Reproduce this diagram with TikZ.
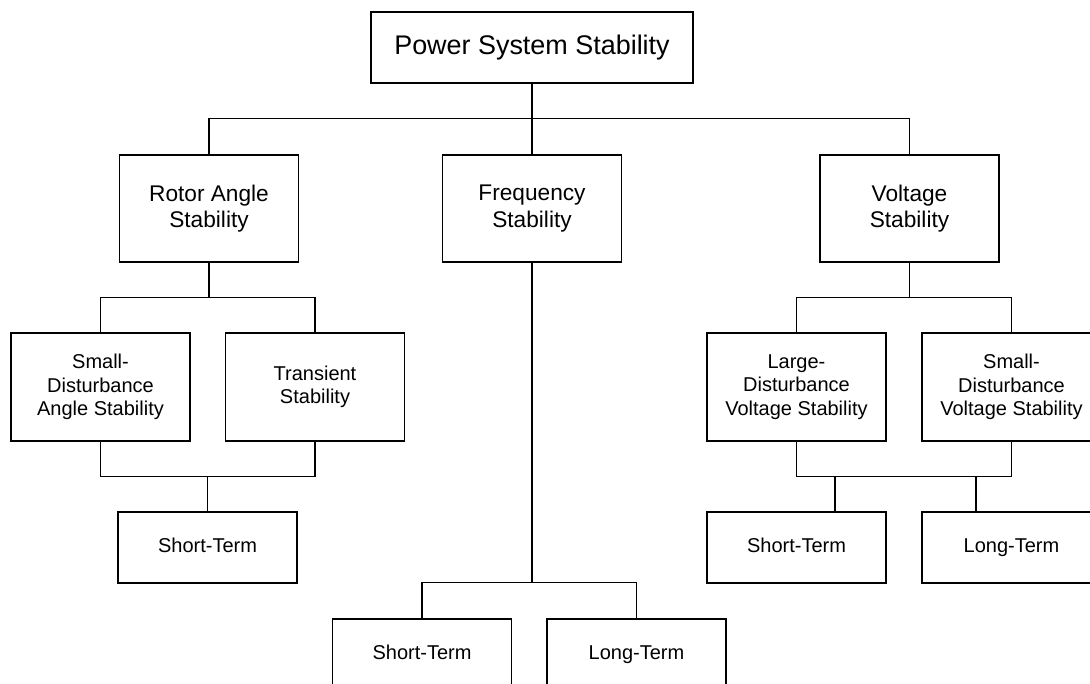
\documentclass[tikz,border=0pt]{standalone}
\usepackage{fontspec}
\setmainfont{Liberation Sans}
\usetikzlibrary{calc,positioning}
\tikzset{
  ln/.style={line width=1.1pt,black},
  box/.style={draw,line width=1.1pt,align=center,inner sep=0pt,
    minimum width=134.25pt},
  topbox/.style={box,minimum width=241.5pt,minimum height=53.25pt,
    font=\fontsize{20.2}{24}\selectfont},
  midbox/.style={box,minimum height=80.25pt,
    font=\fontsize{17}{20}\selectfont},
  subbox/.style={box,minimum height=81pt,
    font=\fontsize{15}{17.5}\selectfont},
  termbox/.style={box,minimum height=53.25pt,text height=11pt,text depth=3.2pt,
    font=\fontsize{15}{17.5}\selectfont}
}
\begin{document}
\begin{tikzpicture}[x=0.75pt,y=-0.75pt]
\path[use as bounding box,clip] (0,0) rectangle (1090,684);
% top level
\node[topbox] (pss) at (532,47.5) {Power System Stability};
\node[midbox] (rot) at (209,208.5) {Rotor Angle\\Stability};
\node[midbox] (freq) at (532,208.5) {Frequency\\Stability};
\node[midbox] (volt) at (909.5,208.5) {Voltage\\Stability};
% rotor angle branch
\node[subbox] (sda) at (100.5,387) {Small-\\Disturbance\\Angle Stability};
\node[subbox] (tra) at (315,387) {Transient\\Stability};
\node[termbox] (rst) at (207.5,547.5) {Short-Term};
% frequency branch
\node[termbox] (fst) at (422,654.5) {Short-Term};
\node[termbox] (flt) at (636.5,654.5) {Long-Term};
% voltage branch
\node[subbox] (lvs) at (796.5,387) {Large-\\Disturbance\\Voltage Stability};
\node[subbox] (svs) at (1011.5,387) {Small-\\Disturbance\\Voltage Stability};
\node[termbox] (vst) at (796.5,547.5) {Short-Term};
\node[termbox] (vlt) at (1011.5,547.5) {Long-Term};
% connectors
\draw[ln] (pss.south) -- ++(0,35) coordinate (t1);
\draw[ln] (rot.north) |- (t1) -| (volt.north);
\draw[ln] (t1) -- (freq.north);
\draw[ln] (rot.south) -- ++(0,35) coordinate (r1);
\draw[ln] (sda.north) |- (r1) -| (tra.north);
\draw[ln] (sda.south) -- ++(0,35) coordinate (r2) -| (tra.south);
\draw[ln] (rst.north) -- (rst.north |- r2);
\draw[ln] (fst.north) -- ++(0,-36) coordinate (f1) -| (flt.north);
\draw[ln] (freq.south) -- (freq.south |- f1);
\draw[ln] (volt.south) -- ++(0,35) coordinate (v1);
\draw[ln] (lvs.north) |- (v1) -| (svs.north);
\draw[ln] (lvs.south) -- ++(0,35) coordinate (v2) -| (svs.south);
\coordinate (vs1) at ([xshift=28.9pt]vst.north);
\coordinate (vl1) at ([xshift=-26.6pt]vlt.north);
\draw[ln] (vs1) -- (vs1 |- v2);
\draw[ln] (vl1) -- (vl1 |- v2);
\end{tikzpicture}
\end{document}
